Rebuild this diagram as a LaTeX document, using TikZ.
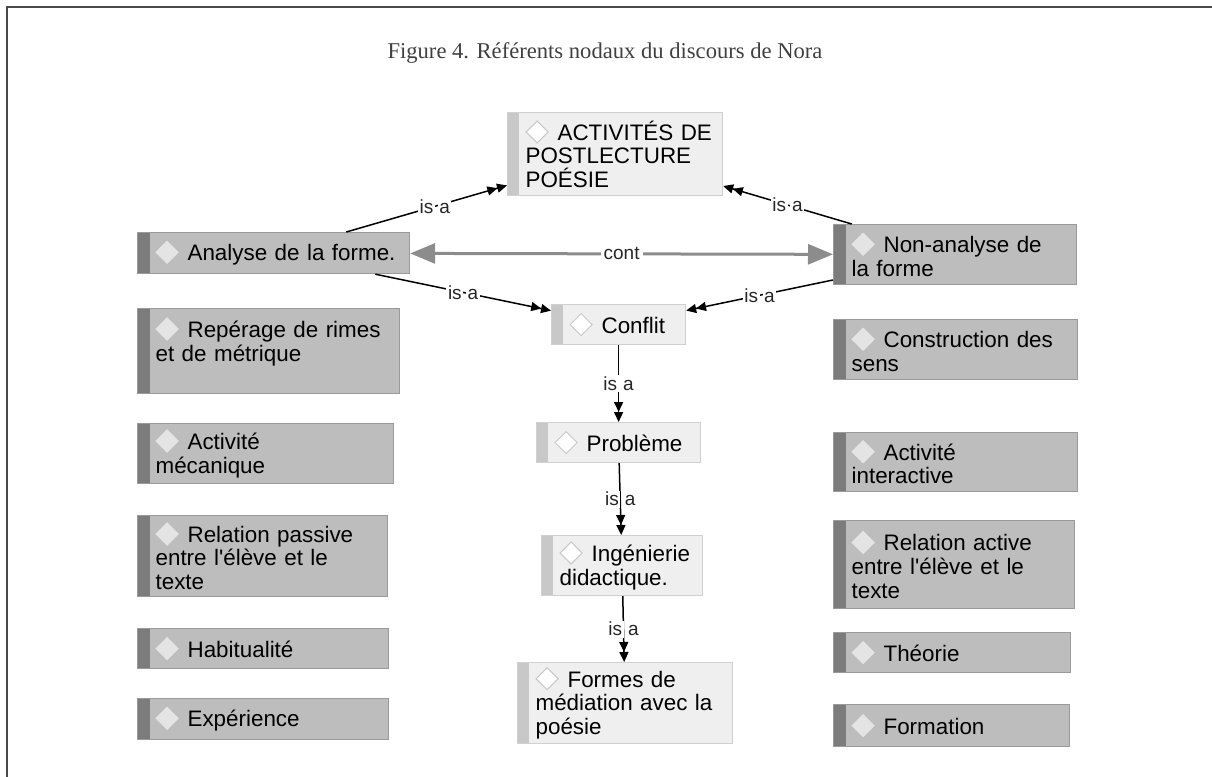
\documentclass[tikz,border=0pt]{standalone}
\usepackage{fontspec}
\setmainfont{Liberation Serif}
\newfontfamily\boxfont{Liberation Sans}
\usetikzlibrary{arrows.meta}
\definecolor{darkfill}{HTML}{BDBDBD}
\definecolor{darkstrip}{HTML}{7C7C7C}
\definecolor{darkline}{HTML}{9A9A9A}
\definecolor{lightfill}{HTML}{EFEFEF}
\definecolor{lightstrip}{HTML}{C8C8C8}
\definecolor{lightline}{HTML}{D0D0D0}
\definecolor{contgray}{HTML}{8C8C8C}
\definecolor{framegray}{HTML}{4A4A4A}
\definecolor{dmdfill}{HTML}{E4E4E4}
\newcommand{\dmd}[2]{\tikz[baseline={(0,-4.2pt)}]\filldraw[fill=#1,draw=#2,line width=0.5pt]
  (-5.5pt,0)--(0,5.5pt)--(5.5pt,0)--(0,-5.5pt)--cycle;}
\newcommand{\dmdlight}{\dmd{white}{lightstrip}\hspace{4.5pt}}
\newcommand{\dmddark}{\dmd{dmdfill}{dmdfill}\hspace{4.5pt}}
\newcommand{\wb}[1]{{\setlength{\fboxsep}{0.8pt}\colorbox{white}{#1}}}
\newcommand{\isa}{\wb{is}\hspace{1.4pt}\wb{a}}

\begin{document}
\begin{tikzpicture}[x=0.5pt,y=-0.5pt,
    concept/.style={anchor=north west,align=left,inner xsep=9pt,inner ysep=2pt,
                    font=\boxfont\fontsize{11.2}{11.8}\selectfont,line width=0.6pt,
                    execute at begin node={\hyphenpenalty=10000\rightskip=0pt plus 1fil minus 60pt}},
    darkbox/.style={concept,fill=darkfill,draw=darkline,
      path picture={\fill[darkstrip] (path picture bounding box.north west)
        rectangle ([xshift=6pt]path picture bounding box.south west);}},
    lightbox/.style={concept,fill=lightfill,draw=lightline,
      path picture={\fill[lightstrip] (path picture bounding box.north west)
        rectangle ([xshift=5.5pt]path picture bounding box.south west);}},
    isa/.style={line width=0.75pt,-{Triangle[length=5pt,width=4.5pt]Triangle[length=5pt,width=4.5pt]}},
    cont/.style={draw=contgray,line width=1.5pt,
      {Triangle[length=12.5pt,width=10pt]}-{Triangle[length=12.5pt,width=10pt]}},
    lbl/.style={font=\boxfont\fontsize{9.5}{10}\selectfont,text=black!85,inner sep=0pt}
]
  \useasboundingbox (0,0) rectangle (1212,777);
  % frame and caption
  \draw[framegray,line width=1pt] (6.5,777) -- (6.5,6.5) -- (1212,6.5);
  \node[font=\fontsize{11.3}{13}\selectfont,text=black!75] (title) at (605,53)
    {Figure 4. Référents nodaux du discours de Nora};

  % centre column
  \node[lightbox,text width=89.5pt,minimum height=41.5pt] (act) at (507,112)
    {\dmdlight ACTIVITÉS DE\\POSTLECTURE\\POÉSIE};
  \node[lightbox,text width=49pt,minimum height=20pt] (conf) at (551,304) {\dmdlight Conflit};
  \node[lightbox,text width=64pt,minimum height=20pt] (prob) at (536,422) {\dmdlight Problème};
  \node[lightbox,text width=62.5pt,minimum height=30pt] (inge) at (541,535)
    {\dmdlight Ingénierie\\didactique.};
  \node[lightbox,text width=89.5pt,minimum height=40.5pt] (formes) at (517,662)
    {\dmdlight Formes de\\médiation avec la\\poésie};

  % left column
  \node[darkbox,text width=118pt,minimum height=20.5pt] (ana) at (137,232) {\dmddark Analyse de la forme.};
  \node[darkbox,text width=113pt,minimum height=42.5pt] (rep) at (137,308)
    {\dmddark Repérage de rimes\\et de métrique\\\mbox{}};
  \node[darkbox,text width=110pt,minimum height=30pt] (meca) at (137,423) {\dmddark Activité\\mécanique};
  \node[darkbox,text width=107pt,minimum height=40.5pt] (pass) at (137,515)
    {\dmddark Relation passive\\entre l\textquotesingle élève et le\\texte};
  \node[darkbox,text width=107.5pt,minimum height=20pt] (habit) at (137,628) {\dmddark Habitualité};
  \node[darkbox,text width=107.5pt,minimum height=20.5pt] (exp) at (137,698) {\dmddark Expérience};

  % right column
  \node[darkbox,text width=103.5pt,minimum height=30pt] (nonana) at (833,224)
    {\dmddark Non-analyse de\\la forme};
  \node[darkbox,text width=104pt,minimum height=30pt] (sens) at (833,319)
    {\dmddark Construction des\\sens};
  \node[darkbox,text width=104pt,minimum height=29.5pt] (inter) at (833,432)
    {\dmddark Activité\\interactive};
  \node[darkbox,text width=102.5pt,minimum height=44pt] (actv) at (833,520)
    {\dmddark Relation active\\entre l\textquotesingle élève et le\\texte};
  \node[darkbox,text width=100.5pt,minimum height=20pt] (theo) at (833,632) {\dmddark Théorie};
  \node[darkbox,text width=100pt,minimum height=21pt] (form) at (833,704) {\dmddark Formation};

  % links
  \draw[isa] (ana) -- node[lbl,pos=0.55] {\isa} (act);
  \draw[isa] (nonana) -- node[lbl] {\isa} (act);
  \draw[isa] (ana) -- node[lbl] {\isa} (conf);
  \draw[isa] (nonana) -- node[lbl] {\isa} (conf);
  \draw[cont] (ana) -- node[lbl,fill=white,inner sep=1.5pt] {cont} (nonana);
  \draw[isa] (conf) -- node[lbl] {\isa} (prob);
  \draw[isa] (prob) -- node[lbl] {\isa} (inge);
  \draw[isa] (inge) -- node[lbl] {\isa} (formes);
\end{tikzpicture}
\end{document}
